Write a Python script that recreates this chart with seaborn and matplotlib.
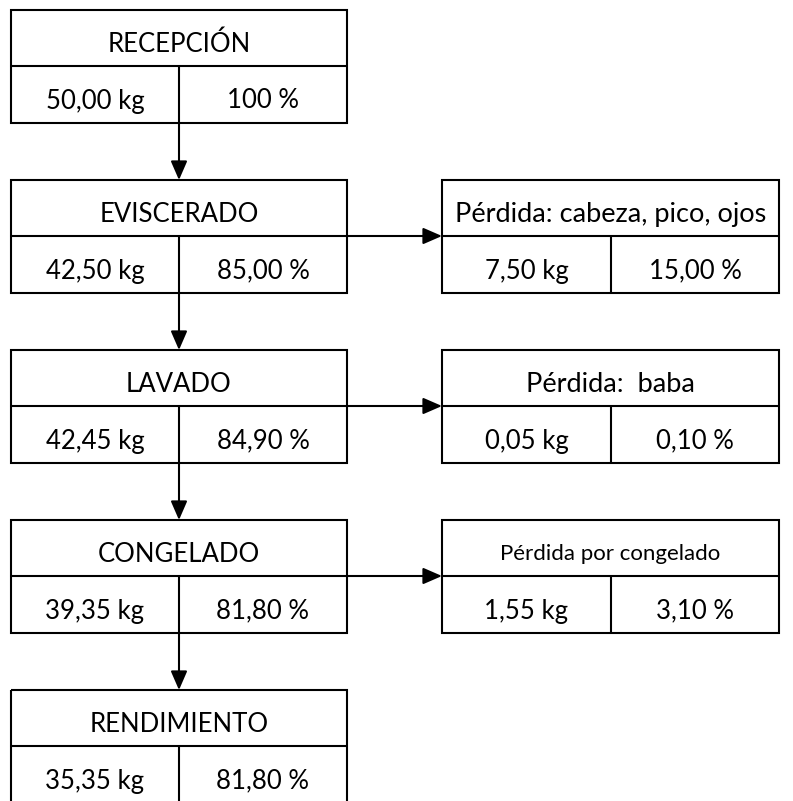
import matplotlib
matplotlib.use("Agg")
import matplotlib.pyplot as plt
import seaborn as sns
from matplotlib.patches import Rectangle

# process steps (main column)
steps = ["RECEPCIÓN", "EVISCERADO", "LAVADO", "CONGELADO", "RENDIMIENTO"]
step_kg = ["50,00 kg", "42,50 kg", "42,45 kg", "39,35 kg", "35,35 kg"]
step_pct = ["100 %", "85,00 %", "84,90 %", "81,80 %", "81,80 %"]

# losses (right column), index of the step they leave from
loss_step = [1, 2, 3]
loss_titles = ["Pérdida: cabeza, pico, ojos", "Pérdida:  baba", "Pérdida por congelado"]
loss_kg = ["7,50 kg", "0,05 kg", "1,55 kg"]
loss_pct = ["15,00 %", "0,10 %", "3,10 %"]
loss_title_size = [19.5, 19.5, 16]

# layout (pixels)
W, H = 793, 801
MAIN_X = (11, 179, 347)
LOSS_X = (442, 611, 779)
TOP0, PITCH = 10, 170
HEAD_H, ROW_H = 56, 57
LW = 1.5
FS = 18.5

sns.set_theme(style="white")
plt.rcParams["font.family"] = ["Lato", "DejaVu Sans"]

fig = plt.figure(figsize=(W / 100, H / 100), dpi=100)
ax = fig.add_axes([0, 0, 1, 1])
ax.set_xlim(0, W)
ax.set_ylim(H, 0)
ax.axis("off")


def draw_box(x, top, title, left_txt, right_txt, title_fs=FS):
    x0, xd, x1 = x
    mid = top + HEAD_H
    bot = mid + ROW_H
    ax.add_patch(Rectangle((x0, top), x1 - x0, bot - top, fill=False,
                           edgecolor="black", linewidth=LW, clip_on=True))
    ax.plot([x0, x1], [mid, mid], color="black", linewidth=LW)
    ax.plot([xd, xd], [mid, bot], color="black", linewidth=LW)
    ax.text((x0 + x1) / 2, top + HEAD_H / 2 + 4, title, ha="center",
            va="center_baseline", fontsize=title_fs, color="black")
    ax.text((x0 + xd) / 2, mid + ROW_H / 2 + 4, left_txt, ha="center",
            va="center_baseline", fontsize=FS, color="black")
    ax.text((xd + x1) / 2, mid + ROW_H / 2 + 4, right_txt, ha="center",
            va="center_baseline", fontsize=FS, color="black")


def arrow(p0, p1):
    ax.annotate("", xy=p1, xytext=p0,
                arrowprops=dict(arrowstyle="-|>,head_length=1.15,head_width=0.5",
                                mutation_scale=10, color="black", lw=LW,
                                shrinkA=0, shrinkB=0))


for i, name in enumerate(steps):
    top = TOP0 + i * PITCH
    draw_box(MAIN_X, top, name, step_kg[i], step_pct[i])
    if i < len(steps) - 1:
        arrow((MAIN_X[1], top + HEAD_H + ROW_H), (MAIN_X[1], top + PITCH))

for j, i in enumerate(loss_step):
    top = TOP0 + i * PITCH
    draw_box(LOSS_X, top, loss_titles[j], loss_kg[j], loss_pct[j],
             title_fs=loss_title_size[j])
    arrow((MAIN_X[2], top + HEAD_H), (LOSS_X[0], top + HEAD_H))

fig.savefig("out.png", dpi=100, facecolor="white")
